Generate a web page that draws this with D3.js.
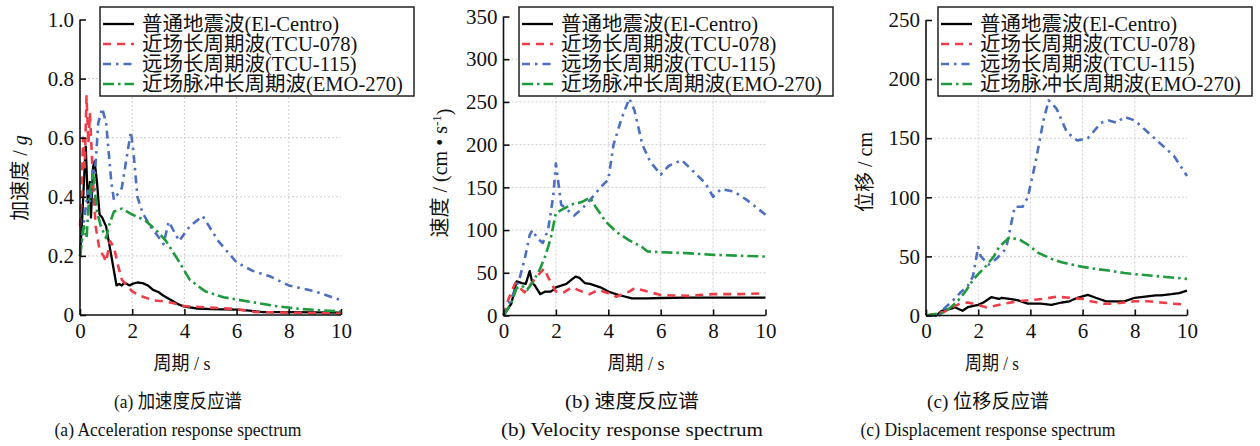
<!DOCTYPE html>
<html><head><meta charset="utf-8">
<script src="https://cdn.jsdelivr.net/npm/d3@7"></script>
<style>
html,body{margin:0;padding:0;background:#fff;}
svg{display:block;}
text{font-family:"Liberation Serif","Times New Roman","Noto Sans CJK SC",serif;fill:#111;}
</style></head>
<body><svg id="c" width="1260" height="446"></svg>
<script>
// ---- data ----
const seriesNames = ["普通地震波(El-Centro)","近场长周期波(TCU-078)","远场长周期波(TCU-115)","近场脉冲长周期波(EMO-270)"];
const xTicks = [0,2,4,6,8,10];
const accTicks = [0,0.2,0.4,0.6,0.8,1.0];
const velTicks = [0,50,100,150,200,250,300,350];
const dispTicks = [0,50,100,150,200,250];

// acceleration (g) : [period s, value]
const accElCentro = [[0,0.2],[0.08,0.32],[0.15,0.45],[0.22,0.57],[0.3,0.38],[0.38,0.45],[0.42,0.33],[0.5,0.5],[0.56,0.52],[0.65,0.45],[0.75,0.34],[0.85,0.33],[1.0,0.3],[1.1,0.25],[1.2,0.2],[1.3,0.15],[1.4,0.1],[1.5,0.105],[1.6,0.1],[1.7,0.11],[1.9,0.1],[2.0,0.105],[2.2,0.11],[2.4,0.108],[2.6,0.1],[2.8,0.085],[3.0,0.078],[3.2,0.065],[3.5,0.05],[3.8,0.035],[4.0,0.028],[4.5,0.022],[5.0,0.02],[6.0,0.018],[6.5,0.015],[7.0,0.01],[8.0,0.01],[10,0.008]];
const accTCU078 = [[0,0.3],[0.05,0.38],[0.12,0.6],[0.18,0.5],[0.25,0.74],[0.32,0.58],[0.38,0.68],[0.45,0.55],[0.5,0.45],[0.6,0.3],[0.75,0.22],[0.9,0.2],[1.0,0.18],[1.15,0.25],[1.3,0.23],[1.45,0.17],[1.6,0.12],[1.8,0.1],[2.0,0.08],[2.3,0.065],[2.8,0.05],[3.3,0.045],[3.6,0.04],[4.0,0.03],[5.0,0.025],[6.0,0.02],[6.7,0.01],[8.0,0.008],[10,0.005]];
const accTCU115 = [[0,0.2],[0.1,0.28],[0.2,0.35],[0.3,0.42],[0.4,0.38],[0.5,0.5],[0.55,0.45],[0.7,0.65],[0.85,0.7],[1.0,0.65],[1.2,0.45],[1.3,0.39],[1.6,0.43],[1.95,0.62],[2.05,0.55],[2.2,0.4],[2.4,0.345],[2.7,0.3],[3.0,0.265],[3.2,0.24],[3.4,0.316],[3.8,0.25],[4.2,0.3],[4.7,0.335],[5.3,0.25],[6.0,0.178],[6.6,0.15],[7.3,0.13],[8.0,0.1],[9.0,0.08],[10,0.05]];
const accEMO270 = [[0,0.2],[0.15,0.3],[0.25,0.26],[0.35,0.4],[0.5,0.48],[0.65,0.35],[0.8,0.3],[1.0,0.26],[1.1,0.3],[1.3,0.35],[1.6,0.36],[2.0,0.34],[2.5,0.32],[3.0,0.28],[3.3,0.25],[3.8,0.18],[4.2,0.12],[4.8,0.08],[5.5,0.06],[6.5,0.045],[7.5,0.03],[8.5,0.02],[10,0.012]];

// velocity (cm/s)
const velElCentro = [[0,0],[0.3,14],[0.5,40],[0.7,38],[0.85,37],[1.0,52],[1.1,38],[1.2,35],[1.4,25],[1.6,28],[1.8,28],[1.9,30],[2.0,33],[2.2,35],[2.4,37],[2.6,42],[2.75,45.5],[2.9,44],[3.1,38],[3.3,37],[3.7,33],[4.0,28],[4.4,24],[4.9,20],[5.5,20],[6.0,20.5],[7.0,21],[8.0,21],[9.0,21],[10,21]];
const velTCU078 = [[0,0],[0.2,20],[0.45,38],[0.6,33],[0.8,27],[1.0,35],[1.2,43],[1.55,55],[1.7,45],[2.0,28],[2.3,27],[2.6,33],[3.0,28],[3.3,25],[3.6,30],[4.0,26],[4.3,22],[4.8,28],[5.0,32],[5.5,28],[6.0,24],[7.0,23],[8.0,25],[9.0,25],[10,26]];
const velTCU115 = [[0,0],[0.3,20],[0.6,42],[0.8,65],[1.0,94],[1.1,100],[1.3,90],[1.5,85],[1.7,100],[1.9,140],[2.0,178],[2.2,130],[2.5,122],[2.7,117],[3.0,125],[3.3,135],[3.7,150],[4.0,159],[4.2,200],[4.5,230],[4.8,254],[5.0,240],[5.3,200],[5.6,180],[6.0,165],[6.3,175],[6.8,182],[7.2,170],[7.7,155],[8.0,139],[8.3,148],[8.8,145],[9.3,135],[10,118]];
const velEMO270 = [[0,0],[0.3,15],[0.5,32],[0.7,35],[0.9,30],[1.1,38],[1.4,55],[1.6,70],[1.8,90],[2.0,120],[2.3,125],[2.6,130],[3.0,133],[3.3,138],[3.5,128],[3.9,110],[4.3,98],[4.8,88],[5.3,80],[5.5,75],[6.0,74],[7.0,73],[8.0,71],[9.0,70],[10,69]];

// displacement (cm)
const dispElCentro = [[0,0],[0.4,0],[0.6,4],[0.8,5],[1.0,6],[1.1,7],[1.4,4],[1.6,7],[2.0,9],[2.2,11],[2.5,15.5],[2.8,14],[2.9,15],[3.2,14],[3.5,13],[3.9,10],[4.4,10],[4.8,9],[5.2,11],[5.5,12],[5.8,15],[6.2,17.5],[6.5,15],[6.9,12],[7.2,12],[7.6,12],[8.0,15],[8.4,16],[8.8,17],[9.0,17],[9.4,18],[9.7,19],[10,21]];
const dispTCU078 = [[0,0],[0.7,3],[1.0,7],[1.3,10],[1.6,11],[2.0,9],[2.3,7],[2.6,8],[3.0,10],[3.5,12],[4.0,13],[4.5,14],[5.0,16],[5.5,15],[6.0,14],[6.3,12],[6.8,10],[7.2,10],[7.6,11],[8.0,12],[8.5,12],[9.0,11],[9.5,10],[10,9]];
const dispTCU115 = [[0,0],[0.5,0],[0.7,6],[1.0,12],[1.3,19],[1.6,25],[1.8,33],[2.0,58],[2.1,50],[2.4,43],[2.7,48],[3.0,55],[3.1,60],[3.4,92],[3.7,92],[3.9,100],[4.2,130],[4.5,165],[4.7,182],[5.0,175],[5.4,155],[5.8,148],[6.2,150],[6.4,155],[6.7,163],[7.0,165],[7.3,163],[7.6,168],[8.0,165],[8.5,155],[9.0,145],[9.5,135],[10,118]];
const dispEMO270 = [[0,0],[0.6,2],[0.9,6],[1.2,12],[1.5,20],[1.8,30],[2.0,35],[2.3,42],[2.6,50],[2.8,58],[3.2,66],[3.6,64],[3.9,60],[4.3,53],[4.8,48],[5.2,45],[5.8,42],[6.3,40],[7.0,38],[7.6,36],[8.0,35],[9.0,33],[10,31]];

// ---- styles ----
const colors = ["#000000","#ef3d48","#4a6fc3","#1f9a3c"];
const dashes = [null,"8,6","8,5,2.5,5","11,4,2.5,4"];
const widths = [2.3,2.6,2.6,2.6];

const panels = [
  {x0:80, x1:341, yTop:19.5, yBot:315, yMax:1.0, ticks:accTicks, fmt:d=>d===0?"0":d.toFixed(1),
   data:[accElCentro,accTCU078,accTCU115,accEMO270], legX:100, labX:20, labY:178, label:"acc",
   cap1:"(a) 加速度反应谱", cap2:"(a) Acceleration response spectrum", capX:178, w0:57, w1:128, w2:247},
  {x0:503.5, x1:765.5, yTop:16.5, yBot:315.5, yMax:350, ticks:velTicks, fmt:d=>String(d),
   data:[velElCentro,velTCU078,velTCU115,velEMO270], legX:519, labX:440, labY:173, label:"vel",
   cap1:"(b) 速度反应谱", cap2:"(b) Velocity response spectrum", capX:632, w0:57, w1:134, w2:262},
  {x0:926, x1:1187, yTop:20, yBot:315.5, yMax:250, ticks:dispTicks, fmt:d=>String(d),
   data:[dispElCentro,dispTCU078,dispTCU115,dispEMO270], legX:938, labX:865, labY:172, label:"disp",
   cap1:"(c) 位移反应谱", cap2:"(c) Displacement response spectrum", capX:988, w0:54, w1:122, w2:255}
];

const svg = d3.select("#c");

panels.forEach(p => {
  const x = d3.scaleLinear().domain([0,10]).range([p.x0,p.x1]);
  const y = d3.scaleLinear().domain([0,p.yMax]).range([p.yBot,p.yTop]);
  const g = svg.append("g");

  // grid
  g.selectAll(".vg").data(xTicks.filter(t=>t>0&&t<10)).enter().append("line")
    .attr("x1",d=>x(d)).attr("x2",d=>x(d)).attr("y1",p.yBot).attr("y2",p.yTop)
    .attr("stroke","#c8c8c8").attr("stroke-width",0.9).attr("stroke-dasharray","2,2");
  g.selectAll(".hg").data(p.ticks.filter(t=>t>0&&t<p.yMax)).enter().append("line")
    .attr("y1",d=>y(d)).attr("y2",d=>y(d)).attr("x1",p.x0).attr("x2",p.x1)
    .attr("stroke","#c8c8c8").attr("stroke-width",0.9).attr("stroke-dasharray","2,2");

  // series
  const line = d3.line().x(d=>x(d[0])).y(d=>y(d[1]));
  p.data.forEach((ser,i) => {
    g.append("path").attr("d",line(ser)).attr("fill","none")
      .attr("stroke",colors[i]).attr("stroke-width",widths[i])
      .attr("stroke-dasharray",dashes[i]).attr("stroke-linejoin","round");
  });

  // axes
  const xa = d3.axisBottom(x).tickValues(xTicks).tickSize(-6).tickPadding(12).tickFormat(d3.format("d"));
  const ya = d3.axisLeft(y).tickValues(p.ticks).tickSize(-6).tickPadding(12).tickFormat(p.fmt);
  const gx = g.append("g").attr("transform",`translate(0,${p.yBot})`).call(xa);
  const gy = g.append("g").attr("transform",`translate(${p.x0},0)`).call(ya);
  [gx,gy].forEach(a=>{
    a.select(".domain").attr("stroke","#111").attr("stroke-width",1.6);
    a.selectAll(".tick line").attr("stroke","#111").attr("stroke-width",1.6);
    a.selectAll("text").style("font-family",'"Liberation Serif",serif').style("font-size","21px").attr("fill","#111");
  });
  gx.selectAll("text").attr("dy","0.71em").attr("y",8);
  gy.selectAll("text").attr("x",-6);
  gx.select(".domain").attr("d",`M${p.x0},0H${p.x1}`);
  gy.select(".domain").attr("d",`M0,${p.yBot}V${p.yTop}`);

  // legend
  const lw = 314, lh = 89, ly = 7;
  const lg = g.append("g").attr("transform",`translate(${p.legX},${ly})`);
  lg.append("rect").attr("width",lw).attr("height",lh).attr("fill","#fff")
    .attr("stroke","#222").attr("stroke-width",1.5);
  seriesNames.forEach((n,i)=>{
    const cy = 17 + i*20;
    lg.append("line").attr("x1",3).attr("x2",34).attr("y1",cy).attr("y2",cy)
      .attr("stroke",colors[i]).attr("stroke-width",widths[i]).attr("stroke-dasharray",dashes[i]);
    lg.append("text").attr("x",42).attr("y",cy).attr("dy","0.36em")
      .style("font-size","20.5px").text(n);
  });

  // y label
  const yl = g.append("text").attr("transform",`translate(${p.labX},${p.labY}) rotate(-90)`)
    .attr("text-anchor","middle").attr("dy","0.35em").style("font-size","20px");
  if (p.label==="acc") {
    yl.append("tspan").text("加速度 / ");
    yl.append("tspan").style("font-style","italic").text("g");
  } else if (p.label==="vel") {
    yl.append("tspan").text("速度 / (cm • s");
    yl.append("tspan").attr("dy","-0.5em").style("font-size","13px").text("-1");
    yl.append("tspan").attr("dy","0.5em").text(")");
  } else {
    yl.append("tspan").text("位移 / cm");
  }

  // x label & captions
  const cx = p.capX;
  g.append("text").attr("x",cx+4).attr("y",370).attr("text-anchor","middle").style("font-size","19.5px")
    .attr("textLength",p.w0).attr("lengthAdjust","spacingAndGlyphs").text("周期 / s");
  g.append("text").attr("x",cx).attr("y",408).attr("text-anchor","middle").style("font-size","19.5px")
    .attr("textLength",p.w1).attr("lengthAdjust","spacingAndGlyphs").text(p.cap1);
  g.append("text").attr("x",cx).attr("y",436).attr("text-anchor","middle").style("font-size","19.5px")
    .attr("textLength",p.w2).attr("lengthAdjust","spacingAndGlyphs").text(p.cap2);
});
</script></body></html>
